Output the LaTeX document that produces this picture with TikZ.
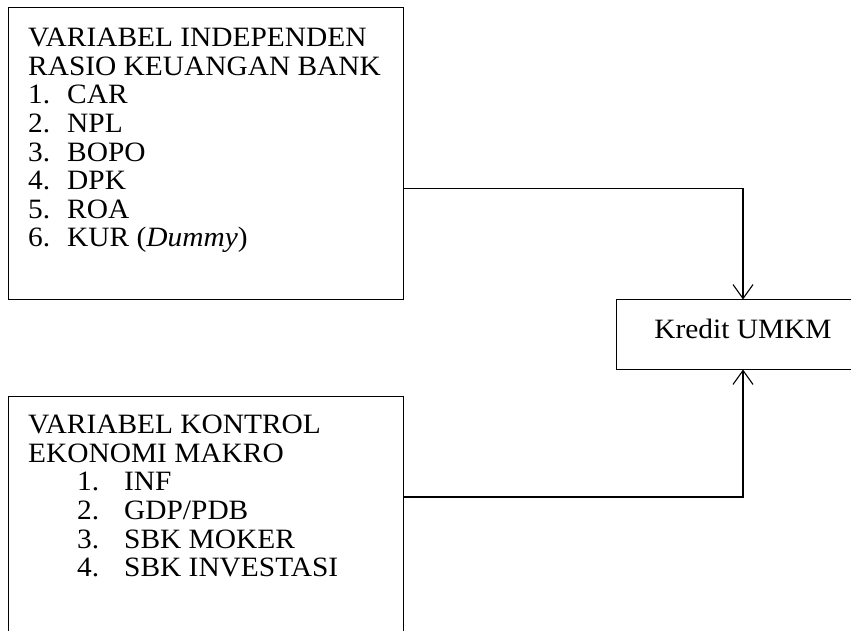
\documentclass[tikz,border=0pt]{standalone}
\usepackage{fontspec}
\usepackage{tikz}
\usetikzlibrary{arrows.meta}
\newfontfamily\diagfont[FakeStretch=1.05]{Liberation Serif}

\begin{document}
\begin{tikzpicture}[x=1pt,y=1pt,
  varbox/.style={draw,line width=1pt,anchor=north west,inner sep=0pt},
  vartext/.style={anchor=north west,inner sep=0pt,align=left,
    font=\diagfont\fontsize{28pt}{28.6pt}\selectfont},
  flow/.style={draw,line width=1.1pt,-{Straight Barb[length=14pt,width=20pt,line width=1.1pt]}}]
\useasboundingbox (0,0) rectangle (851,630);
\clip (0,0) rectangle (851,630);
% boxes
\node [varbox,minimum width=395pt,minimum height=292pt] (indep) at (8,623) {};
\node [varbox,minimum width=395pt,minimum height=264pt] (kontrol) at (8,234) {};
\node [varbox,anchor=center,minimum width=254pt,minimum height=69pt,
  font=\diagfont\fontsize{28pt}{28.6pt}\selectfont,text depth=12pt] (kredit) at (743,295.5) {Kredit UMKM};
% texts
\node [vartext] (indeptext) at ([xshift=20pt,yshift=-21pt]indep.north west)
  {VARIABEL INDEPENDEN\\RASIO KEUANGAN BANK\\
   \makebox[39pt][l]{1.}CAR\\\makebox[39pt][l]{2.}NPL\\\makebox[39pt][l]{3.}BOPO\\
   \makebox[39pt][l]{4.}DPK\\\makebox[39pt][l]{5.}ROA\\\makebox[39pt][l]{6.}KUR (\textit{Dummy})};
\node [vartext] (kontroltext) at ([xshift=20pt,yshift=-19pt]kontrol.north west)
  {VARIABEL KONTROL\\EKONOMI MAKRO\\
   \hspace*{49pt}\makebox[47pt][l]{1.}INF\\\hspace*{49pt}\makebox[47pt][l]{2.}GDP/PDB\\
   \hspace*{49pt}\makebox[47pt][l]{3.}SBK MOKER\\\hspace*{49pt}\makebox[47pt][l]{4.}SBK INVESTASI};
% connectors
\draw [flow] ([yshift=-35pt]indep.east) -| (kredit.north);
\draw [flow] ([yshift=-101pt]kontrol.north east) -| (kredit.south);
\end{tikzpicture}
\end{document}
